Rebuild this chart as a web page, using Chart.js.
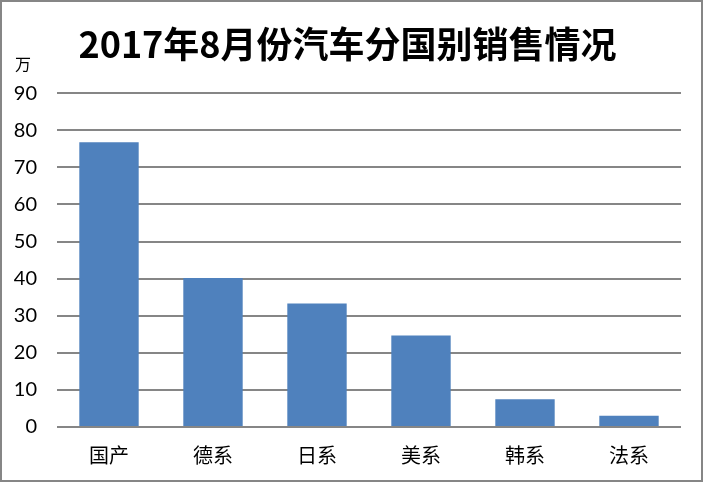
<!DOCTYPE html>
<html>
<head>
<meta charset="utf-8">
<script src="https://cdn.jsdelivr.net/npm/chart.js@4.4.0/dist/chart.umd.min.js"></script>
<style>
  html, body { margin: 0; padding: 0; background: #fff; }
  #wrap { position: relative; width: 703px; height: 482px; }
</style>
</head>
<body>
<div id="wrap"><canvas id="chart" width="703" height="482"></canvas></div>
<script>
// Chart data
const categories = ['国产', '德系', '日系', '美系', '韩系', '法系']
const sales = [76.8, 40.2, 33.3, 24.7, 7.5, 3.0]
const yTicks = [0, 10, 20, 30, 40, 50, 60, 70, 80, 90]

const chartTitle = '2017年8月份汽车分国别销售情况'
const unitLabel = '万'

const CJK = '"Microsoft YaHei", "Noto Sans CJK SC", sans-serif'
const LATIN = 'Lato, "Liberation Sans", sans-serif'

// white background, grey frame and the unit label
const framePlugin = {
  id: 'frame',
  beforeDraw(chart) {
    const ctx = chart.ctx
    ctx.save()
    ctx.fillStyle = '#fff'
    ctx.fillRect(0, 0, chart.width, chart.height)
    ctx.restore()
  },
  afterDraw(chart) {
    const ctx = chart.ctx
    const area = chart.chartArea
    ctx.save()
    ctx.strokeStyle = '#868686'
    ctx.lineWidth = 2
    ctx.strokeRect(1, 1, chart.width - 2, chart.height - 2)
    ctx.fillStyle = '#000'
    ctx.font = '16px ' + CJK
    ctx.textAlign = 'center'
    ctx.textBaseline = 'middle'
    ctx.fillText(unitLabel, 23, area.top - 29)
    ctx.restore()
  }
}

const ctx = document.getElementById('chart').getContext('2d')

new Chart(ctx, {
  type: 'bar',
  data: {
    labels: categories,
    datasets: [{
      data: sales,
      backgroundColor: '#4f81bd',
      borderWidth: 0,
      barPercentage: 0.571,
      categoryPercentage: 1.0
    }]
  },
  options: {
    responsive: false,
    animation: false,
    devicePixelRatio: 1,
    layout: {
      padding: { left: 14, right: 22, top: 16, bottom: 15 }
    },
    plugins: {
      legend: { display: false },
      tooltip: { enabled: false },
      title: {
        display: true,
        text: chartTitle,
        color: '#000',
        font: { family: CJK, size: 36, weight: 'bold' },
        padding: { top: 7, bottom: 27 }
      }
    },
    scales: {
      x: {
        grid: { display: false, drawTicks: false },
        border: { display: false },
        ticks: {
          color: '#000',
          font: { family: CJK, size: 20 },
          padding: 16,
          maxRotation: 0,
          minRotation: 0
        },
        afterFit(scale) {
          scale.height = 40
        }
      },
      y: {
        min: 0,
        max: 90,
        afterBuildTicks(scale) {
          scale.ticks = yTicks.map(v => ({ value: v }))
        },
        grid: {
          color: '#868686',
          lineWidth: 2,
          drawTicks: false
        },
        border: { display: false },
        ticks: {
          color: '#000',
          font: { family: LATIN, size: 20 },
          padding: 20
        },
        afterFit(scale) {
          scale.width = 43
        }
      }
    }
  },
  plugins: [framePlugin]
})
</script>
</body>
</html>
